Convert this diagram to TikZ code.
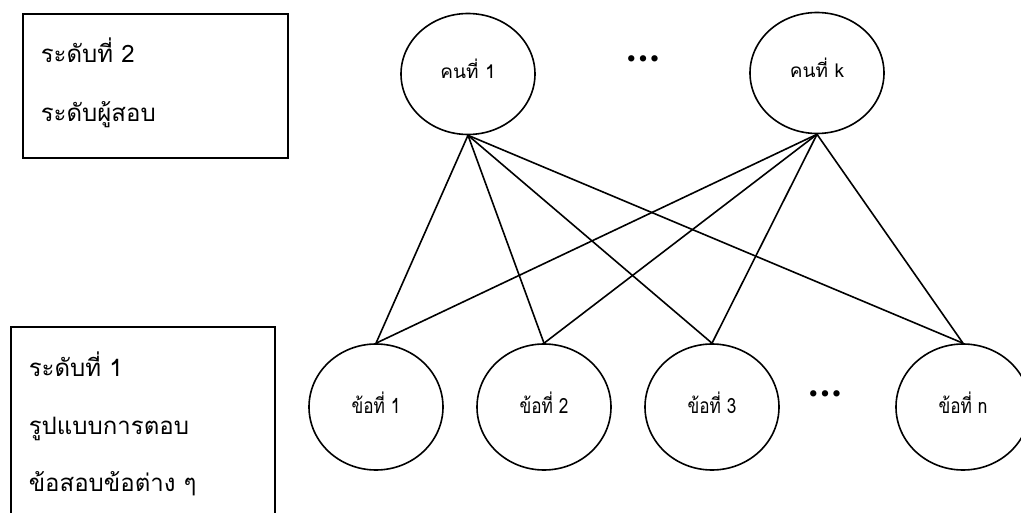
\documentclass[tikz,border=0pt]{standalone}
\usepackage{fontspec}
\newfontfamily\thaifont[Script=Thai]{Loma}
\newfontfamily\thainarrow[Script=Thai,FakeStretch=0.82]{Loma}
\newfontfamily\symfont{DejaVu Sans}
\usetikzlibrary{shapes.geometric}
\begin{document}
\begin{tikzpicture}[x=1pt,y=-1pt,line width=1.6pt,
  levelbox/.style={draw,rectangle,inner sep=0pt,anchor=north west},
  boxtext/.style={anchor=base west,inner sep=0pt,font=\thaifont\fontsize{24}{24}\selectfont},
  person/.style={draw,ellipse,minimum width=134pt,minimum height=121pt,inner sep=0pt,
    font=\thaifont\fontsize{19}{19}\selectfont},
  question/.style={draw,ellipse,minimum width=134pt,minimum height=126pt,inner sep=0pt,
    font=\thainarrow\fontsize{21}{21}\selectfont},
  ellipsis/.style={inner sep=0pt,font=\symfont\bfseries\fontsize{18}{18}\selectfont},
  link/.style={line width=1.6pt}]
\clip (0,0) rectangle (1021,513);
\fill[white] (0,0) rectangle (1021,513);

% level boxes
\node[levelbox,minimum width=265pt,minimum height=144pt] (lvtwo) at (22,13) {};
\node[boxtext] (lvtwoa) at (40,63) {ระดับที่ 2};
\node[boxtext] (lvtwob) at (40,122) {ระดับผู้สอบ};

\node[levelbox,minimum width=264pt,minimum height=220pt] (lvone) at (10,326) {};
\node[boxtext] (lvonea) at (28,376) {ระดับที่ 1};
\node[boxtext] (lvoneb) at (28,434) {รูปแบบการตอบ};
\node[boxtext] (lvonec) at (28,491) {ข้อสอบข้อต่าง ๆ};

% examinees
\node[person] (p1) at (468,74) {\raisebox{11pt}{คนที่ 1}};
\node[person] (pk) at (817,73) {\raisebox{11pt}{คนที่ k}};
\node[ellipsis] (pdots) at (643,61) {•••};

% items
\node[question] (q1) at (376,407) {\raisebox{9pt}{ข้อที่ 1}};
\node[question] (q2) at (544,407) {\raisebox{9pt}{ข้อที่ 2}};
\node[question] (q3) at (712,407) {\raisebox{9pt}{ข้อที่ 3}};
\node[question] (qn) at (963,407) {\raisebox{9pt}{ข้อที่ n}};
\node[ellipsis] (qdots) at (825,396) {•••};

% links from every examinee to every item
\foreach \q in {q1,q2,q3,qn}{
  \draw[link] (p1.south) -- (\q.north);
  \draw[link] (pk.south) -- (\q.north);
}
\end{tikzpicture}
\end{document}
